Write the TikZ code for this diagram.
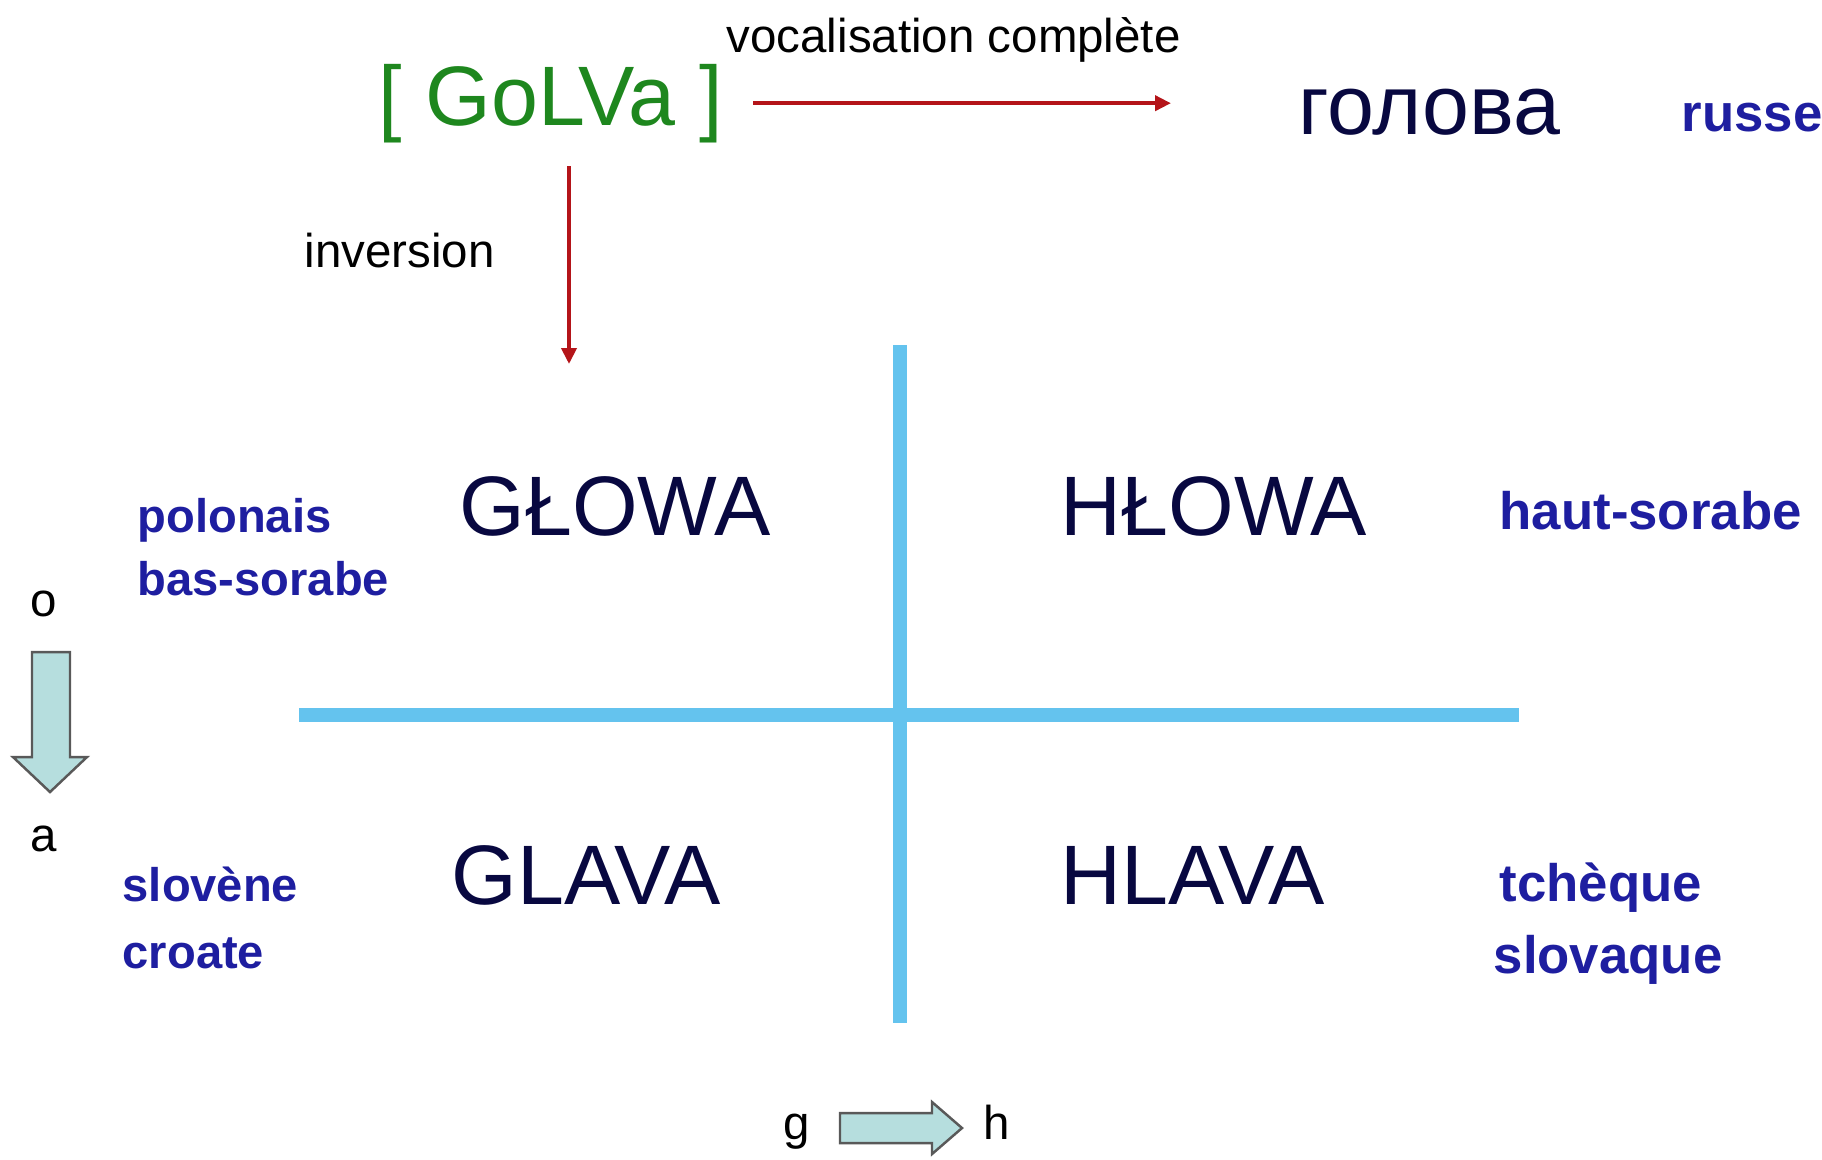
\documentclass[tikz,border=0pt]{standalone}
\usepackage{fontspec}
\setmainfont{Liberation Sans}
\usepackage{xcolor}
\usepackage{tikz}
\usetikzlibrary{
  arrows.meta,
  positioning
}
\definecolor{quadblue}{RGB}{100,195,238}
\definecolor{wordnavy}{RGB}{8,8,64}
\definecolor{langblue}{RGB}{30,30,160}
\definecolor{rootgreen}{RGB}{30,135,30}
\definecolor{arrowred}{RGB}{180,20,25}
\definecolor{hollowfill}{RGB}{182,222,222}
\tikzset{
  bigword/.style={anchor=base west, inner sep=0pt, text=wordnavy, font=\fontsize{24}{28}\selectfont},
  langlabel/.style={anchor=base west, inner sep=0pt, text=langblue, font=\bfseries\fontsize{15}{18}\selectfont},
  leftlabel/.style={langlabel, font=\bfseries\fontsize{13.4}{16}\selectfont},
  smalltext/.style={anchor=base west, inner sep=0pt, font=\fontsize{13.5}{16}\selectfont},
  redarrow/.style={arrowred, line width=1.1pt, -{Triangle[length=1.6mm,width=1.5mm]}},
  hollowarrow/.style={draw=black!65, fill=hollowfill, line width=0.7pt, line join=miter}
}

\begin{document}
\begin{tikzpicture}[x=0.01cm, y=-0.01cm]
  \useasboundingbox (0,0) rectangle (1822,1159);
  % quadrant lines
  \draw[quadblue, line width=4pt] (900,345) -- (900,1023);
  \draw[quadblue, line width=4pt] (299,715) -- (1519,715);
  % root and russian form
  \node[bigword, text=rootgreen] (golva) at (378,125) {[ GoLVa ]};
  \node[bigword] (golova) at (1298,134) {голова};
  \node[langlabel] (russe) at (1681,131) {russe};
  \node[smalltext] (vocal) at (726,52) {vocalisation complète};
  \node[smalltext] (inver) at (304,267) {inversion};
  % red arrows
  \coordinate (vocend) at (1171,105);
  \coordinate (invend) at (569,364);
  \draw[redarrow, shorten <=0.3cm] (golva.east) -- (vocend |- golva.east);
  \draw[redarrow, shorten <=0.23cm] (invend |- golva.south) -- (invend);
  % four forms
  \node[bigword] (glowa) at (459,535) {GŁOWA};
  \node[bigword] (hlowa) at (1060,535) {HŁOWA};
  \node[bigword] (glava) at (451,904) {GLAVA};
  \node[bigword] (hlava) at (1060,904) {HLAVA};
  % languages
  \node[leftlabel] (polon) at (137,532) {polonais};
  \node[leftlabel] (bassor) at (137,595) {bas-sorabe};
  \node[langlabel] (hautsor) at (1499,529) {haut-sorabe};
  \node[leftlabel] (slov) at (122,901) {slovène};
  \node[leftlabel] (croat) at (122,968) {croate};
  \node[langlabel] (tcheq) at (1499,901) {tchèque};
  \node[langlabel] (slovaq) at (1493,973) {slovaque};
  % o -> a
  \node[smalltext, anchor=base] (olet) at (44,616) {o};
  \node[smalltext, anchor=base] (alet) at (44,851) {a};
  \draw[hollowarrow] (32,652) -- (70,652) -- (70,757) -- (87,757) -- (50,792) -- (13,757) -- (32,757) -- cycle;
  % g -> h
  \node[smalltext, anchor=base] (glet) at (797,1139) {g};
  \node[smalltext, anchor=base] (hlet) at (997,1139) {h};
  \draw[hollowarrow] (840,1113) -- (932,1113) -- (932,1102) -- (962,1128) -- (932,1154) -- (932,1143) -- (840,1143) -- cycle;
\end{tikzpicture}
\end{document}
